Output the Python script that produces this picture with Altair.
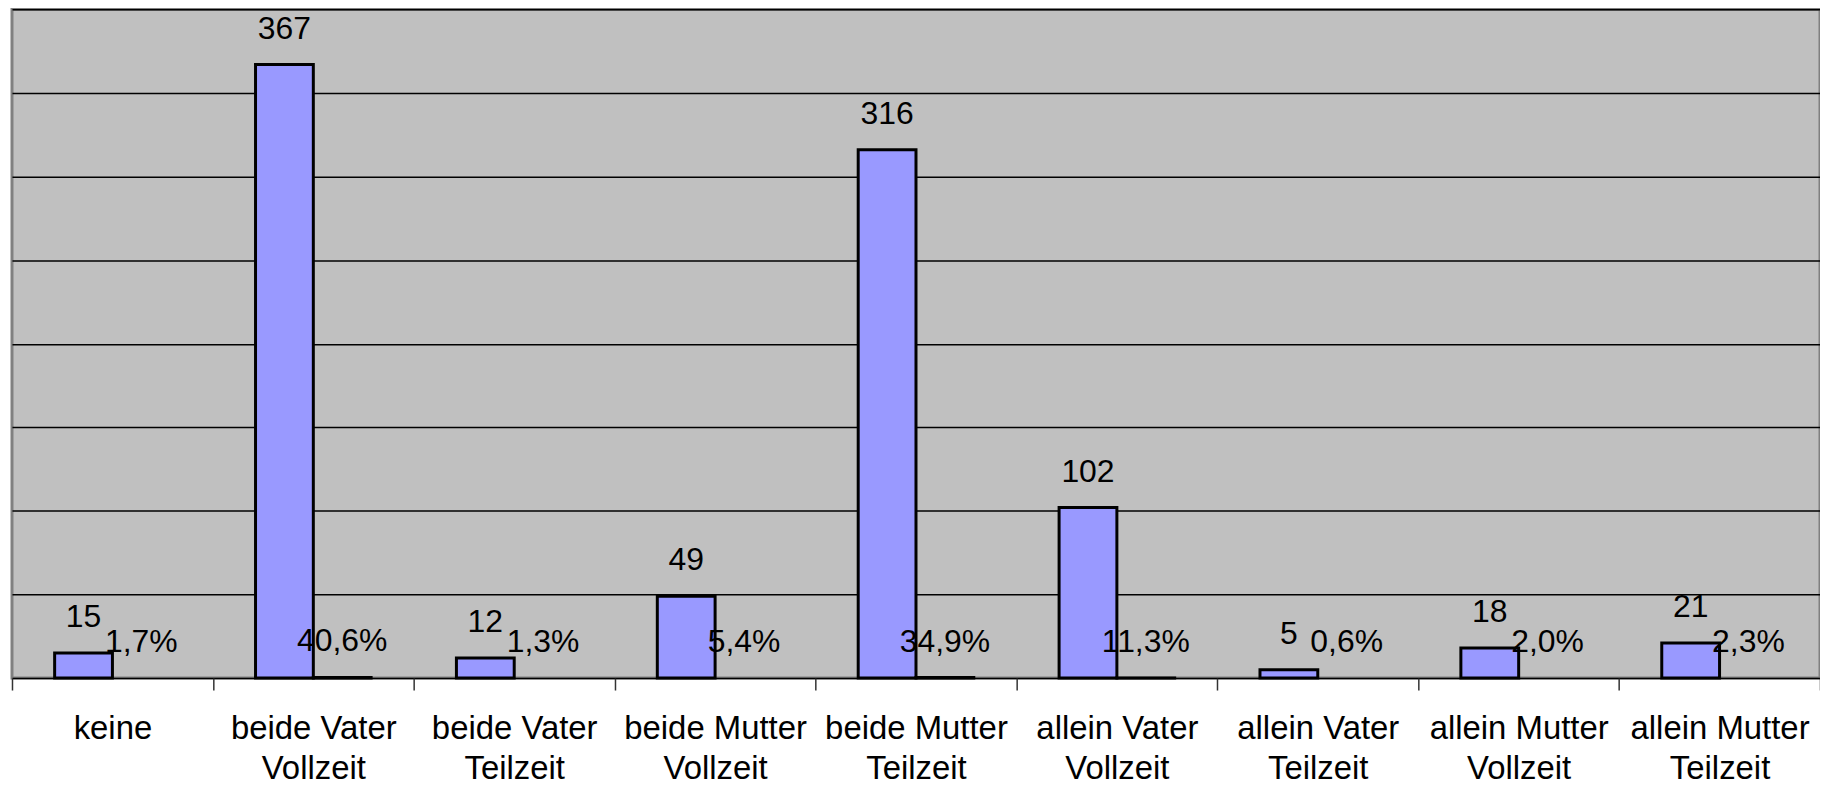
import altair as alt
import pandas as pd

categories = [
    "keine|",
    "beide Vater|Vollzeit",
    "beide Vater|Teilzeit",
    "beide Mutter|Vollzeit",
    "beide Mutter|Teilzeit",
    "allein Vater|Vollzeit",
    "allein Vater|Teilzeit",
    "allein Mutter|Vollzeit",
    "allein Mutter|Teilzeit",
]
counts = [15, 367, 12, 49, 316, 102, 5, 18, 21]
percents = [1.7, 40.6, 1.3, 5.4, 34.9, 11.3, 0.6, 2.0, 2.3]
y_ticks = [0, 50, 100, 150, 200, 250, 300, 350, 400]

rows = []
for c, n, p in zip(categories, counts, percents):
    rows.append({"cat": c, "series": "Anzahl", "value": n, "label": str(n)})
    rows.append({"cat": c, "series": "Prozent", "value": p / 100.0,
                 "label": f"{p:.1f}".replace(".", ",") + "%"})
df = pd.DataFrame(rows)

FONT = "Liberation Sans"

x_enc = alt.X(
    "cat:N",
    sort=categories,
    scale=alt.Scale(paddingInner=0, paddingOuter=0),
    axis=alt.Axis(
        title=None,
        labelAngle=0,
        labelFont=FONT,
        labelFontSize=33,
        labelColor="black",
        labelExpr="split(datum.label, '|')",
        labelLineHeight=40,
        labelPadding=23,
        labelLimit=0,
        labelOverlap=False,
        tickBand="extent",
        tickSize=12,
        tickColor="#333333",
        tickWidth=1.5,
        domain=False,
        grid=False,
    ),
)
xo = alt.XOffset(
    "series:N",
    sort=["Anzahl", "Prozent"],
    scale=alt.Scale(paddingInner=0, paddingOuter=0.738),
)
y_enc = alt.Y(
    "value:Q",
    scale=alt.Scale(domain=[0, 400], nice=False),
    axis=alt.Axis(
        title=None,
        values=y_ticks,
        labels=False,
        ticks=False,
        domain=False,
        grid=True,
        gridColor="black",
        gridWidth=1.5,
    ),
)

bars = alt.Chart(df).mark_bar(
    fill="#9999FF", stroke="black", strokeWidth=3
).encode(
    x=x_enc,
    xOffset=xo,
    y=y_enc,
    strokeOpacity=alt.condition(
        "datum.series == 'Prozent' && datum.value < 0.1",
        alt.value(0),
        alt.value(1),
    ),
)

texts = alt.Chart(df).mark_text(
    font=FONT, fontSize=32, color="black", baseline="alphabetic", dy=-26
).encode(
    x=alt.X("cat:N", sort=categories),
    xOffset=alt.XOffset("series:N", sort=["Anzahl", "Prozent"]),
    y=alt.Y("value:Q"),
    text="label:N",
)

chart = (
    alt.layer(bars, texts)
    .properties(
        width=1814,
        height=671,
        padding={"left": 4, "top": 0, "right": 0, "bottom": 106},
        autosize=alt.AutoSizeParams(type="none"),
        background="white",
    )
    .configure_view(fill="#C0C0C0", stroke="#808080", strokeWidth=3)
)

chart.save("out.html", embed_options={"renderer": "svg", "actions": False})
